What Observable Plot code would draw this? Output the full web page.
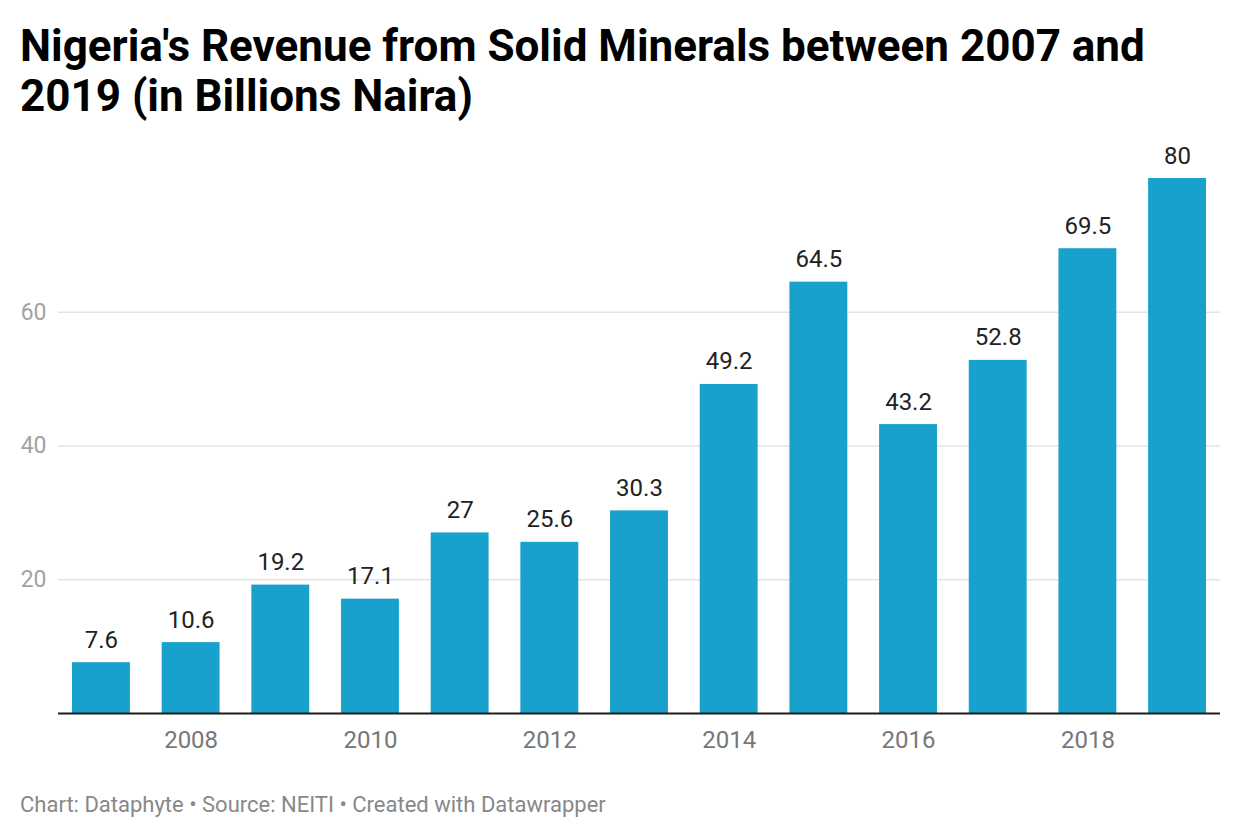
<!DOCTYPE html>
<html>
<head>
<meta charset="utf-8">
<script src="https://cdn.jsdelivr.net/npm/d3@7"></script>
<script src="https://cdn.jsdelivr.net/npm/@observablehq/plot@0.6"></script>
<style>
  html, body { margin: 0; padding: 0; background: #fff; }
  body { width: 1240px; height: 840px; overflow: hidden; font-family: Roboto, sans-serif; }
  #title { margin: 21px 20px 0 20px; font-size: 44px; line-height: 50px; font-weight: 700; color: #000; height: 100px; white-space: nowrap; }
  #chart svg { display: block; }
  #footer { margin: 12px 0 0 20px; font-size: 22px; line-height: 24px; color: #888; }
</style>
</head>
<body>
<div id="title">Nigeria's Revenue from Solid Minerals between 2007 and<br>2019 (in Billions Naira)</div>
<div id="chart"></div>
<div id="footer">Chart: Dataphyte • Source: NEITI • Created with Datawrapper</div>
<script>
const years = ["2007","2008","2009","2010","2011","2012","2013","2014","2015","2016","2017","2018","2019"];
const revenue = [7.6, 10.6, 19.2, 17.1, 27, 25.6, 30.3, 49.2, 64.5, 43.2, 52.8, 69.5, 80];
const xTickLabels = ["2008","2010","2012","2014","2016","2018"];
const yTickValues = [20, 40, 60];

const data = years.map((year, i) => ({year, value: revenue[i]}));

const chart = Plot.plot({
  width: 1240,
  height: 660,
  marginTop: 57,
  marginLeft: 58,
  marginRight: 20,
  marginBottom: 68,
  style: {fontFamily: "Roboto, sans-serif", background: "#fff"},
  x: {type: "band", domain: years, paddingInner: 0.3543, paddingOuter: 0.1559, round: false},
  y: {domain: [0, 80]},
  marks: [
    Plot.ruleY(yTickValues, {stroke: "#e3e3e3", strokeWidth: 1.5}),
    Plot.barY(data, {x: "year", y: "value", fill: "#18a1cd"}),
    Plot.ruleY([0], {stroke: "#1d1d1d", strokeWidth: 2}),
    Plot.text(data, {x: "year", y: "value", text: d => String(d.value), lineAnchor: "bottom", dy: -15, fontSize: 24, fill: "#222"}),
    Plot.axisX({ticks: xTickLabels, tickSize: 0, tickPadding: 17, fontSize: 24, color: "#777", label: null}),
    Plot.axisY({ticks: yTickValues, tickSize: 0, tickPadding: 12, fontSize: 23, color: "#a3a3a3", label: null})
  ]
});
document.getElementById("chart").appendChild(chart);
</script>
</body>
</html>
